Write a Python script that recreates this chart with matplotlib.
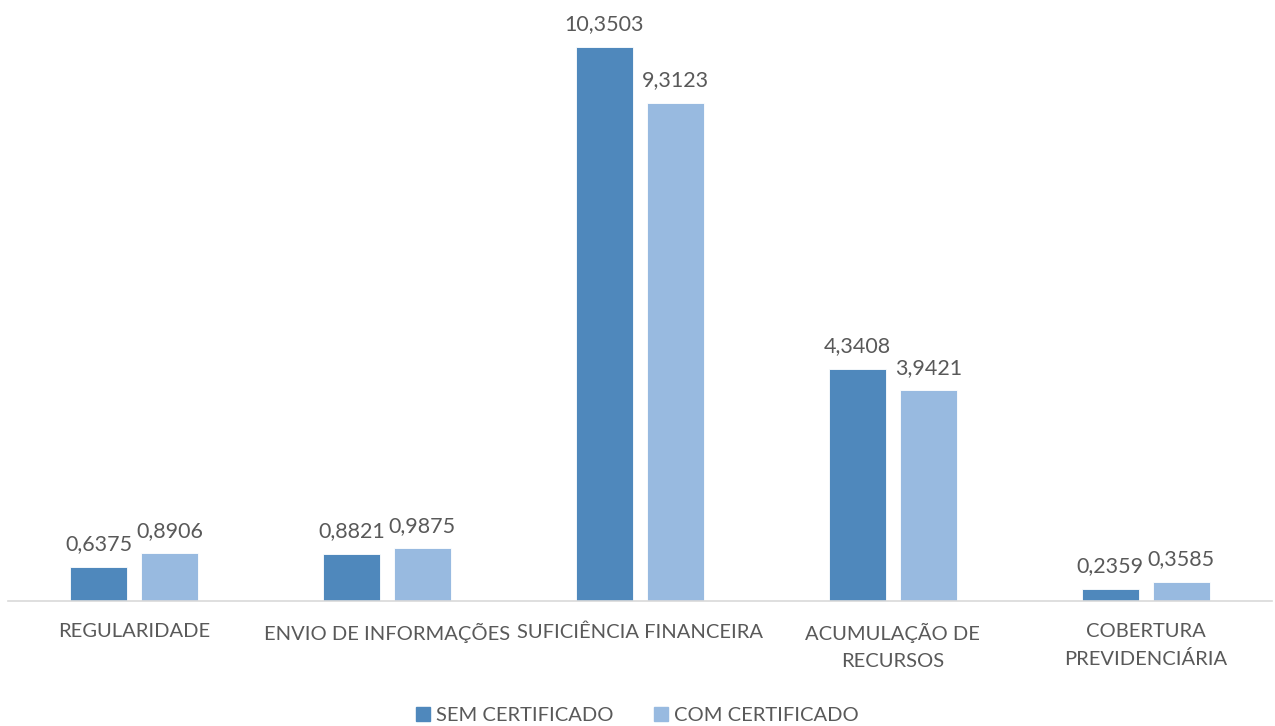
import matplotlib.pyplot as plt
import numpy as np
from matplotlib.patches import Patch

categorias = ["REGULARIDADE", "ENVIO DE INFORMAÇÕES", "SUFICIÊNCIA FINANCEIRA",
              "ACUMULAÇÃO DE\nRECURSOS", "COBERTURA\nPREVIDENCIÁRIA"]
sem_cert = [0.6375, 0.8821, 10.3503, 4.3408, 0.2359]
com_cert = [0.8906, 0.9875, 9.3123, 3.9421, 0.3585]
series = ["SEM CERTIFICADO", "COM CERTIFICADO"]

cor_sem = "#4F88BC"
cor_com = "#98BAE0"
cinza = "#595959"

plt.rcParams["font.family"] = ["Lato", "DejaVu Sans"]

fig = plt.figure(figsize=(12.75, 7.26), dpi=100)
ax = fig.add_axes([0.0059, 0.172, 0.992, 0.828])

x = np.arange(len(categorias))
w = 0.225
off = 0.14

b1 = ax.bar(x - off, sem_cert, w, color=cor_sem, edgecolor="white", linewidth=0.6)
b2 = ax.bar(x + off, com_cert, w, color=cor_com, edgecolor="white", linewidth=0.6)

def fmt(v):
    return f"{v:.4f}".replace(".", ",")

for barras, vals in [(b1, sem_cert), (b2, com_cert)]:
    for b, v in zip(barras, vals):
        ax.annotate(fmt(v), (b.get_x() + b.get_width() / 2, v),
                    xytext=(0, 9), textcoords="offset points",
                    ha="center", va="bottom", fontsize=15.5, color=cinza)

ax.set_xlim(-0.5, len(categorias) - 0.5)
ax.set_ylim(0, 11.23)
ax.set_xticks(x)
ax.set_xticklabels(categorias, fontsize=14.5, color=cinza, linespacing=1.65)
ax.tick_params(axis="x", length=0, pad=16)
ax.set_yticks([])
for s in ["top", "right", "left"]:
    ax.spines[s].set_visible(False)
ax.spines["bottom"].set_color("#D9D9D9")
ax.spines["bottom"].set_linewidth(1.2)

handles = [Patch(color=cor_sem), Patch(color=cor_com)]
fig.legend(handles, series, loc="lower center", bbox_to_anchor=(0.5, -0.022),
           ncol=2, frameon=False, fontsize=14.5, labelcolor=cinza,
           handlelength=0.7, handleheight=0.7, handletextpad=0.3,
           columnspacing=2.0)

fig.savefig("out.png", dpi=100)
